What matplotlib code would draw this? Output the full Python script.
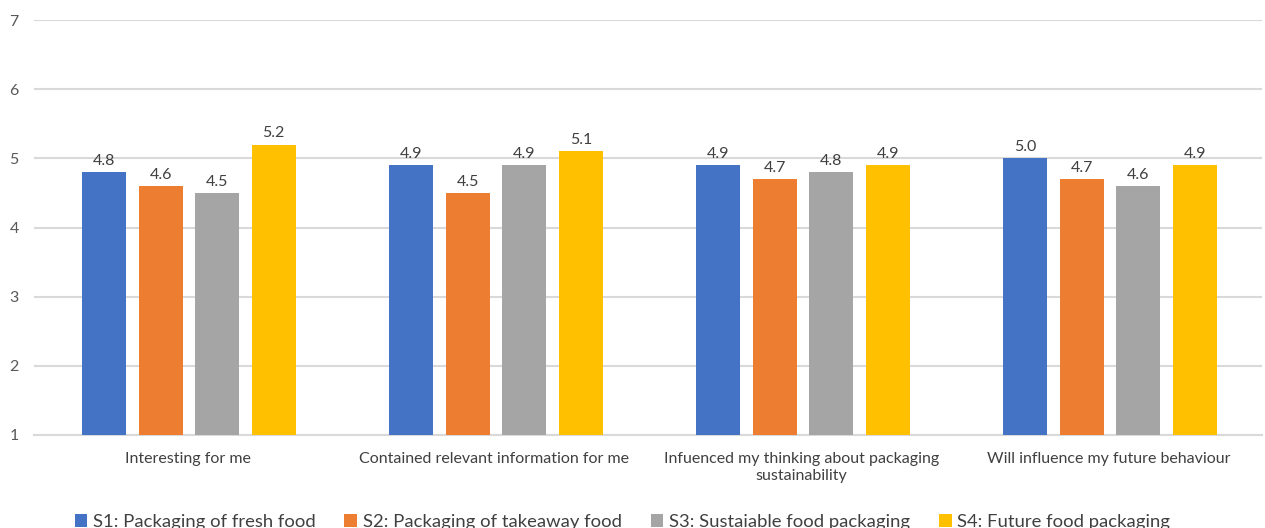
import matplotlib
matplotlib.use("Agg")
import matplotlib.pyplot as plt
import numpy as np

categories = ["Interesting for me", "Contained relevant information for me",
              "Infuenced my thinking about packaging\nsustainability", "Will influence my future behaviour"]
series_names = ["S1: Packaging of fresh food", "S2: Packaging of takeaway food",
                "S3: Sustaiable food packaging", "S4: Future food packaging"]
s1 = [4.8, 4.9, 4.9, 5.0]
s2 = [4.6, 4.5, 4.7, 4.7]
s3 = [4.5, 4.9, 4.8, 4.6]
s4 = [5.2, 5.1, 4.9, 4.9]
series = [s1, s2, s3, s4]
colors = ["#4472C4", "#ED7D31", "#A5A5A5", "#FFC000"]
yticks = [1, 2, 3, 4, 5, 6, 7]

plt.rcParams['font.family'] = ['Lato', 'DejaVu Sans']

fig = plt.figure(figsize=(12.65, 5.28), dpi=100)
ax = fig.add_axes([34/1265, 93/528, (1262-34)/1265, (435-20)/528])

x = np.arange(len(categories))
step = 0.184
width = 0.143
for i, (vals, c, name) in enumerate(zip(series, colors, series_names)):
    pos = x + (i - 1.5) * step + 0.005
    ax.bar(pos, np.array(vals) - 1, width, bottom=1, color=c, label=name,
           edgecolor='none', zorder=3)
    for p, v in zip(pos, vals):
        ax.text(p, v + 0.06, f"{v:.1f}", ha='center', va='bottom', fontsize=11.5,
                color='#404040', zorder=4)

ax.set_xlim(-0.5, 3.5)
ax.set_ylim(1, 7)
ax.set_yticks(yticks)
ax.set_yticklabels([str(t) for t in yticks])
ax.yaxis.grid(True, color='#d9d9d9', linewidth=1.5, zorder=0)
ax.set_xticks(x)
ax.set_xticklabels(categories, fontsize=11.5, color='#404040', linespacing=1.3)
for s in ['top', 'right', 'left']:
    ax.spines[s].set_visible(False)
ax.spines['bottom'].set_color('#d9d9d9')
ax.spines['bottom'].set_linewidth(1.5)
ax.tick_params(axis='both', length=0)
ax.tick_params(axis='y', labelsize=11.5, labelcolor='#595959', pad=11)
ax.tick_params(axis='x', pad=12)

fig.legend(loc='lower center', bbox_to_anchor=(0.492, -0.035), ncol=4, frameon=False,
           fontsize=13.3, handlelength=0.7, handleheight=0.7, handletextpad=0.3,
           columnspacing=1.55, labelcolor='#404040')

fig.savefig("out.png", dpi=100)
